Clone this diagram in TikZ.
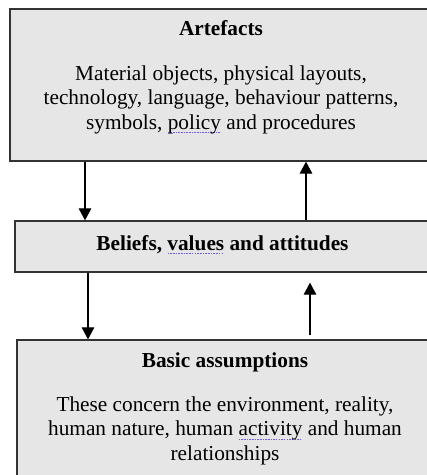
\documentclass[tikz,border=0pt]{standalone}
\usepackage{fontspec}
\setmainfont{Liberation Serif}
\usepackage{xcolor}
\usetikzlibrary{arrows.meta,positioning}

\definecolor{boxgray}{HTML}{E6E6E6}
\definecolor{edgegray}{HTML}{333333}
\definecolor{spellblue}{HTML}{6A5AF0}

\newcommand\spellmark[1]{\setbox0\hbox{#1}\rlap{\color{spellblue}\raisebox{-4pt}{\hbox to \wd0{\xleaders\hbox{\rule{1.6pt}{1pt}\hspace{1pt}}\hfill}}}#1}

\begin{document}
\begin{tikzpicture}[x=1pt,y=-1pt,
  layerbox/.style={draw=edgegray,fill=boxgray,line width=1.3pt,inner sep=0pt},
  titletext/.style={font=\fontsize{21.3}{24.5}\selectfont\bfseries,inner sep=0pt,anchor=base},
  bodytext/.style={font=\fontsize{21.3}{24.5}\selectfont,align=center,inner sep=0pt,anchor=base},
  flow/.style={-{Triangle[width=12.5pt,length=12pt]},line width=1.2pt}]
\useasboundingbox (0,0) rectangle (427,475);

\node[layerbox, minimum width=422pt, minimum height=152pt] (art) at (221,85)    {};
  \node[layerbox, minimum width=417pt, minimum height=51pt]  (bel) at (223.5,246.5) {};
  \node[layerbox, minimum width=415pt, minimum height=160pt] (bas) at (224.5,420)   {};

  % multi-line texts sit on the baseline of their last line
  \node[titletext] (artT) at (221,35)    {Artefacts};
  \node[bodytext]  (artB) at (221,129)   {Material objects, physical layouts,\\
    technology, language, behaviour patterns,\\ symbols, \spellmark{policy} and procedures};
  \node[titletext] (belT) at (222.5,250) {Beliefs, \spellmark{values} and attitudes};
  \node[titletext] (basT) at (225,367)   {Basic assumptions};
  \node[bodytext]  (basB) at (225,460)   {These concern the environment, reality,\\
    human nature, human \spellmark{activity} and human\\ relationships};

  \coordinate (downA) at (85,0);
  \coordinate (upA)   at (306,0);
  \coordinate (downB) at (88,0);
  \coordinate (upB)   at (310,0);

  \path[flow]
		(art.south -| downA) edge (bel.north -| downA)
        (bel.north -| upA)   edge (art.south -| upA)
        (bel.south -| downB) edge (bas.north -| downB);

  \path[flow, shorten <=4pt, shorten >=10pt]
        (bas.north -| upB)   edge (bel.south -| upB);
\end{tikzpicture}
\end{document}
